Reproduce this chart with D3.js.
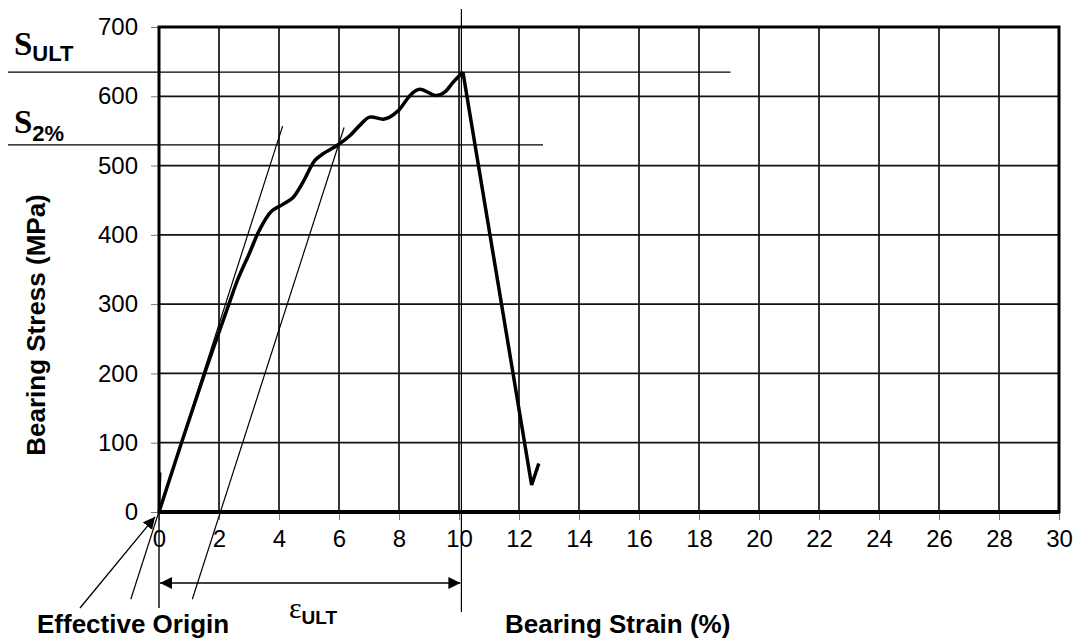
<!DOCTYPE html>
<html lang="en">
<head>
    <meta charset="UTF-8">
    <title>Bearing Stress vs Strain</title>
    <script src="https://d3js.org/d3.v7.min.js"></script>
    <style>
        body { margin: 0; background: #fff; }
        svg { display: block; font-family: Arial, "Liberation Sans", sans-serif; }
    </style>
</head>
<body>
    <div id="chart"></div>
    <script>
        // curve (strain %, stress MPa)
        var riseStrain = [0, 0.75, 1.52, 2.33, 2.63, 3.0, 3.36, 3.75, 4.13, 4.47, 4.8, 5.19, 5.47, 5.97, 6.36, 6.69, 7.02, 7.47, 7.69, 7.97, 8.41, 8.69, 9.25, 9.52, 9.8, 10.13];
        var riseStress = [0, 100, 200, 300, 336, 372, 408, 434, 444, 454, 476, 507, 517, 530, 543, 558, 570, 567, 570, 579, 603, 610, 601, 606, 620, 635];
        var dropStrain = [10.13, 12.42, 12.66];
        var dropStress = [635, 39, 70];
        var spike = [[0, 0], [0.05, 57]];

        // construction lines
        var tangentLine = [[-0.94, -126], [4.12, 557]];
        var offsetLine = [[1.11, -126], [6.17, 555]];
        var sUlt = 635, s2pct = 530, epsUlt = 10.08;

        var xTicks = d3.range(0, 31, 2);
        var yTicks = d3.range(0, 701, 100);

        var width = 1075, height = 641;
        var svg = d3.select('#chart').append('svg').attr('width', width).attr('height', height);

        var x = d3.scaleLinear().domain([0, 30]).range([159, 1059]);
        var y = d3.scaleLinear().domain([0, 700]).range([512, 27]);

        svg.append('defs').append('marker')
            .attr('id', 'head').attr('viewBox', '0 0 10 10').attr('refX', 10).attr('refY', 5)
            .attr('markerWidth', 12).attr('markerHeight', 12).attr('markerUnits', 'userSpaceOnUse')
            .attr('orient', 'auto-start-reverse')
            .append('path').attr('d', 'M0,0L10,5L0,10Z').attr('fill', '#000');

        // grid
        svg.append('g').selectAll('line').data(xTicks.slice(1, -1)).enter().append('line')
            .attr('x1', d => x(d)).attr('x2', d => x(d)).attr('y1', y(700)).attr('y2', y(0))
            .attr('stroke', '#111').attr('stroke-width', 1.7);
        svg.append('g').selectAll('line').data(yTicks.slice(1, -1)).enter().append('line')
            .attr('x1', x(0)).attr('x2', x(30)).attr('y1', d => y(d)).attr('y2', d => y(d))
            .attr('stroke', '#111').attr('stroke-width', 1.7);

        // axes
        var xAxis = d3.axisBottom(x).tickValues(xTicks).tickSize(8).tickPadding(12).tickFormat(d3.format('d'));
        var yAxis = d3.axisLeft(y).tickValues(yTicks).tickSize(8).tickPadding(12).tickFormat(d3.format('d'));
        var gx = svg.append('g').attr('transform', 'translate(0,' + y(0) + ')').call(xAxis);
        var gy = svg.append('g').attr('transform', 'translate(' + x(0) + ',0)').call(yAxis);
        [gx, gy].forEach(function(g){
            g.select('.domain').remove();
            g.selectAll('.tick line').attr('stroke', '#777').attr('stroke-width', 1);
            g.selectAll('.tick text').attr('fill', '#000').attr('font-size', 24)
                .attr('font-family', 'Arial, "Liberation Sans", sans-serif');
        });
        gx.selectAll('.tick text').attr('dy', '0.75em').attr('y', 17);
        gy.selectAll('.tick text').attr('x', -21);

        // frame
        svg.append('rect').attr('x', x(0)).attr('y', y(700)).attr('width', x(30) - x(0)).attr('height', y(0) - y(700))
            .attr('fill', 'none').attr('stroke', '#000').attr('stroke-width', 3);
        svg.append('line').attr('x1', x(0)).attr('x2', x(30)).attr('y1', y(0)).attr('y2', y(0))
            .attr('stroke', '#000').attr('stroke-width', 4);

        var line = d3.line().x(d => x(d[0])).y(d => y(d[1]));

        // construction lines
        function thin(pts, w){
            svg.append('path').attr('d', line(pts)).attr('fill', 'none').attr('stroke', '#000').attr('stroke-width', w || 1.2);
        }
        thin(tangentLine);
        thin(offsetLine);
        thin([[x.invert(8), sUlt], [19.05, sUlt]]);
        thin([[x.invert(8), s2pct], [12.8, s2pct]]);
        thin([[epsUlt, y.invert(9)], [epsUlt, y.invert(612)]]);
        thin([[0, 0], [0, y.invert(608)]], 1.4);

        // eps_ult arrow
        svg.append('line').attr('x1', x(0) + 1).attr('x2', x(epsUlt) - 1)
            .attr('y1', 583).attr('y2', 583).attr('stroke', '#000').attr('stroke-width', 1.3)
            .attr('marker-start', 'url(#head)').attr('marker-end', 'url(#head)');

        // effective origin pointer
        svg.append('line').attr('x1', 80).attr('y1', 608).attr('x2', x(-0.13)).attr('y2', y(-7))
            .attr('stroke', '#000').attr('stroke-width', 1.3).attr('marker-end', 'url(#head)');

        // curve
        var rise = riseStrain.map((d, i) => [d, riseStress[i]]);
        var drop = dropStrain.map((d, i) => [d, dropStress[i]]);
        svg.append('path').attr('d', line.curve(d3.curveCatmullRom)(rise))
            .attr('fill', 'none').attr('stroke', '#000').attr('stroke-width', 3.5).attr('stroke-linejoin', 'round');
        line.curve(d3.curveLinear);
        svg.append('path').attr('d', line(drop))
            .attr('fill', 'none').attr('stroke', '#000').attr('stroke-width', 3.5).attr('stroke-linejoin', 'miter');
        svg.append('path').attr('d', line(spike)).attr('fill', 'none').attr('stroke', '#000').attr('stroke-width', 2);

        // labels
        svg.append('text').attr('transform', 'translate(45,325) rotate(-90)').attr('text-anchor', 'middle')
            .attr('font-size', 26).attr('font-weight', 'bold').text('Bearing Stress (MPa)');
        svg.append('text').attr('x', 505).attr('y', 633)
            .attr('font-size', 26).attr('font-weight', 'bold').text('Bearing Strain (%)');
        svg.append('text').attr('x', 37).attr('y', 633)
            .attr('font-size', 26).attr('font-weight', 'bold').text('Effective Origin');

        function sub(xp, yp, main, mainSize, subText, subSize, subDy, mainFont, mainWeight){
            var t = svg.append('text').attr('x', xp).attr('y', yp);
            t.append('tspan').attr('font-family', mainFont).attr('font-weight', mainWeight)
                .attr('font-size', mainSize).text(main);
            t.append('tspan').attr('font-weight', 'bold').attr('font-size', subSize).attr('dy', subDy).text(subText);
        }
        sub(14, 55, 'S', 33, 'ULT', 22, 6, '"Liberation Serif", "Times New Roman", serif', 'bold');
        sub(14, 133, 'S', 33, '2%', 22, 8, '"Liberation Serif", "Times New Roman", serif', 'bold');
        sub(289, 618, 'ε', 30, 'ULT', 19, 6, '"Liberation Serif", "Times New Roman", serif', 'normal');
    </script>
</body>
</html>
